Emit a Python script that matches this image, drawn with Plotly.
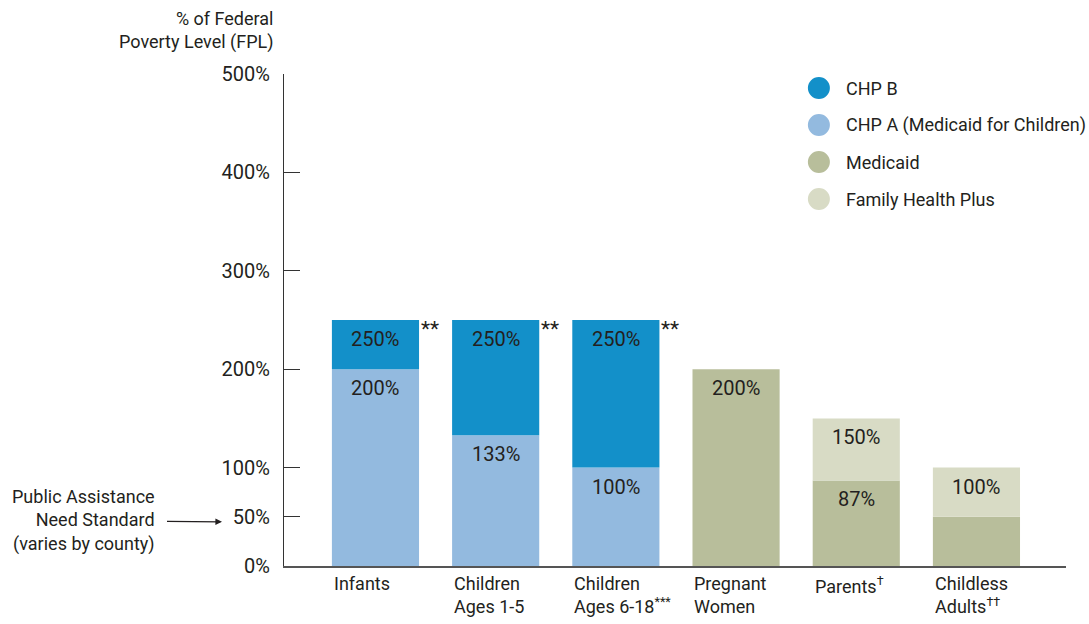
import plotly.graph_objects as go

# ---------------- data ----------------
categories = ["Infants", "Children<br>Ages 1-5", "Children<br>Ages 6-18<sup>***</sup>",
              "Pregnant<br>Women", "Parents<sup>†</sup>", "Childless<br>Adults<sup>††</sup>"]
chp_a = [200, 133, 100, None, None, None]          # upper limit, % FPL
chp_b = [250, 250, 250, None, None, None]          # upper limit, % FPL
medicaid = [None, None, None, 200, 87, 50]         # upper limit, % FPL
fhp = [None, None, None, None, 150, 100]           # upper limit, % FPL

chp_a_labels = ["200%", "133%", "100%", "", "", ""]
chp_b_labels = ["250%", "250%", "250%", "", "", ""]
medicaid_labels = ["", "", "", "200%", "87%", ""]
fhp_labels = ["", "", "", "", "150%", "100%"]
footnotes = ["**", "**", "**", "", "", ""]

y_ticks = [0, 50, 100, 200, 300, 400, 500]
y_ticklabels = ["0%", "50%", "100%", "200%", "300%", "400%", "500%"]

legend_names = ["CHP B", "CHP A (Medicaid for Children)", "Medicaid", "Family Health Plus"]

# ---------------- style ----------------
C_CHPB = "#1390c9"
C_CHPA = "#93badf"
C_MED = "#b8be9b"
C_FHP = "#d8dbc5"
legend_colors = [C_CHPB, C_CHPA, C_MED, C_FHP]
TXT = "#231f20"
FONT = "Roboto, sans-serif"
FS = 18
FS_NUM = 20
BAR_W = 0.725

x = list(range(len(categories)))


def seg(top, base):
    ys, bs = [], []
    for t, b in zip(top, base):
        if t is None:
            ys.append(None)
            bs.append(0)
        else:
            bb = b if b is not None else 0
            ys.append(t - bb)
            bs.append(bb)
    return ys, bs


fig = go.Figure()
zeros = [0] * len(x)
for top, base, color, name in [
    (chp_a, zeros, C_CHPA, "CHP A"),
    (chp_b, chp_a, C_CHPB, "CHP B"),
    (medicaid, zeros, C_MED, "Medicaid"),
    (fhp, medicaid, C_FHP, "Family Health Plus"),
]:
    ys, bs = seg(top, base)
    fig.add_trace(go.Bar(x=x, y=ys, base=bs, width=BAR_W, marker=dict(color=color, line=dict(width=0)),
                         name=name, showlegend=False, hoverinfo="skip"))

annotations = []
# value labels inside bars, near the top of each segment
for tops, labels in [(chp_a, chp_a_labels), (chp_b, chp_b_labels),
                     (medicaid, medicaid_labels), (fhp, fhp_labels)]:
    for xi, t, lab in zip(x, tops, labels):
        if lab and t is not None:
            annotations.append(dict(x=xi, y=t, xref="x", yref="y", text=lab, showarrow=False,
                                    yanchor="middle", yshift=-19, font=dict(size=FS_NUM, color=TXT)))

# footnote asterisks
for xi, t, fn in zip(x, chp_b, footnotes):
    if fn and t is not None:
        annotations.append(dict(x=xi + BAR_W / 2, y=t, xref="x", yref="y", text=fn, showarrow=False,
                                xanchor="left", yanchor="top", xshift=0, yshift=5,
                                font=dict(size=21, color=TXT)))

# category labels, left-aligned with bar edges
for xi, cat in zip(x, categories):
    annotations.append(dict(x=xi - BAR_W / 2, y=0, xref="x", yref="paper", text=cat, showarrow=False,
                            xanchor="left", yanchor="top", align="left", yshift=-5,
                            font=dict(size=FS, color=TXT)))

# y axis title
annotations.append(dict(x=0, y=1, xref="paper", yref="paper", text="% of Federal<br>Poverty Level (FPL)",
                        showarrow=False, xanchor="right", yanchor="middle", align="right",
                        xshift=-9, yshift=44, font=dict(size=FS, color=TXT)))

# Public assistance need standard pointer
annotations.append(dict(x=-0.0793, y=50, xref="paper", yref="y", yshift=-5,
                        text="Public Assistance<br>Need Standard<br>(varies by county)",
                        showarrow=True, axref="pixel", ayref="pixel", ax=-138, ay=-1,
                        arrowhead=2, arrowsize=1.1, arrowwidth=1.2, arrowcolor=TXT,
                        align="right", font=dict(size=FS, color=TXT), standoff=0, startstandoff=10))

# manual legend
shapes = []
for i, (nm, col) in enumerate(zip(legend_names, legend_colors)):
    yp = 0.9715 - i * 0.0752
    shapes.append(dict(type="circle", xref="paper", yref="paper", xsizemode="pixel", ysizemode="pixel",
                       xanchor=0.684, yanchor=yp, x0=-11, x1=11, y0=-11, y1=11,
                       fillcolor=col, line=dict(width=0)))
    annotations.append(dict(x=0.7187, y=yp, xref="paper", yref="paper", text=nm, showarrow=False,
                            xanchor="left", yanchor="middle", xshift=-2, font=dict(size=FS, color=TXT)))

fig.update_layout(
    width=1089, height=624,
    margin=dict(l=284, r=23, t=74, b=58),
    paper_bgcolor="white", plot_bgcolor="white",
    barmode="overlay",
    font=dict(family=FONT, size=FS, color=TXT),
    showlegend=False,
    xaxis=dict(range=[-0.761, 5.745], showticklabels=False, ticks="", showgrid=False, zeroline=False,
               showline=True, linecolor="#555555", linewidth=1.5),
    yaxis=dict(range=[0, 500], tickvals=y_ticks, ticktext=y_ticklabels, ticks="inside", ticklen=16,
               tickcolor="#333333", tickwidth=1, showgrid=False, zeroline=False, showline=True,
               linecolor="#333333", linewidth=1.2, ticklabelstandoff=9,
               tickfont=dict(size=FS_NUM, color=TXT)),
    annotations=annotations,
    shapes=shapes,
)

fig.write_html("out.html", config={"displayModeBar": False},
               post_script="document.body.style.margin='0';document.body.style.overflow='hidden';")
